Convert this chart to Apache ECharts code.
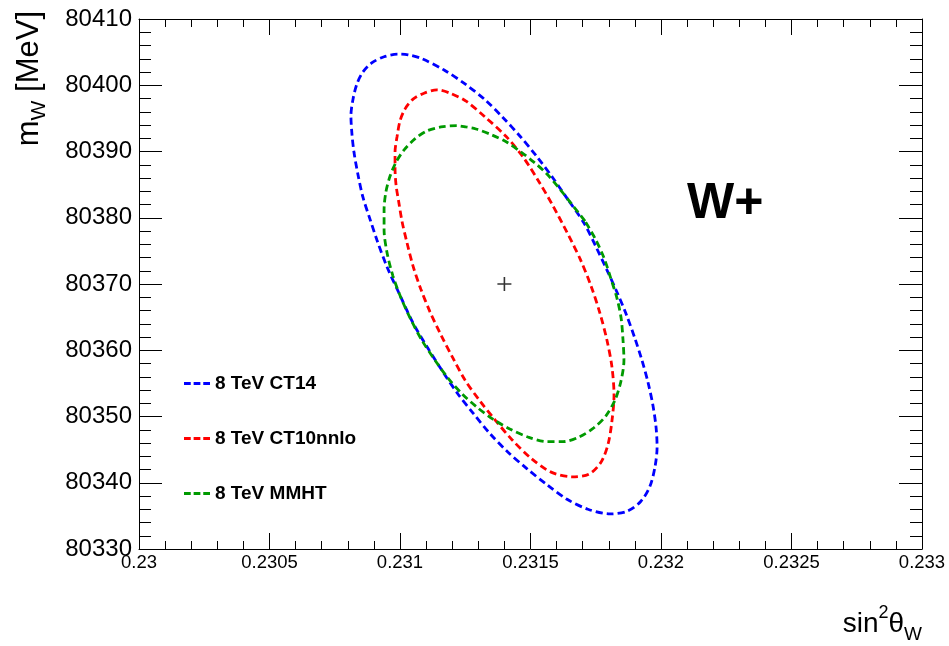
<!DOCTYPE html>
<html>
<head>
<meta charset="utf-8">
<script src="https://cdn.jsdelivr.net/npm/echarts@6/dist/echarts.min.js"></script>
<style>
  html, body { margin: 0; padding: 0; background: #fff; }
  #chart { width: 949px; height: 646px; }
</style>
</head>
<body>
<div id="chart"></div>
<script>
// Contour points [sin^2 theta_W, m_W in MeV] for each PDF set, counter-clockwise from the top
const ct14Points = [
  [0.230992, 80404.7], [0.230939, 80404.3], [0.230893, 80403.4], [0.230858, 80402.0],
  [0.230835, 80400.2], [0.230820, 80397.9], [0.230812, 80395.4], [0.230816, 80392.6],
  [0.230824, 80389.8], [0.230839, 80386.5], [0.230858, 80383.1], [0.230885, 80379.8],
  [0.230912, 80376.6], [0.230950, 80372.6], [0.231000, 80368.3], [0.231050, 80364.1],
  [0.231107, 80360.3], [0.231165, 80356.7], [0.231222, 80353.4], [0.231280, 80350.5],
  [0.231345, 80347.4], [0.231414, 80344.6], [0.231487, 80342.1], [0.231563, 80339.7],
  [0.231640, 80337.5], [0.231720, 80336.0], [0.231805, 80335.3], [0.231870, 80335.7],
  [0.231923, 80337.2], [0.231958, 80339.5], [0.231977, 80342.4], [0.231985, 80345.4],
  [0.231981, 80348.4], [0.231969, 80351.7], [0.231950, 80355.2], [0.231927, 80358.5],
  [0.231900, 80361.8], [0.231866, 80365.5], [0.231831, 80368.8], [0.231793, 80372.1],
  [0.231751, 80375.6], [0.231705, 80379.2], [0.231644, 80382.7], [0.231586, 80386.0],
  [0.231525, 80389.2], [0.231460, 80392.3], [0.231395, 80395.1], [0.231326, 80397.8],
  [0.231249, 80400.2], [0.231169, 80402.3], [0.231084, 80404.0], [0.231031, 80404.6]
];

const ct10nnloPoints = [
  [0.231142, 80399.3], [0.231092, 80398.8], [0.231050, 80397.9], [0.231019, 80396.4],
  [0.231000, 80394.6], [0.230989, 80392.3], [0.230981, 80389.9], [0.230981, 80387.5],
  [0.230985, 80384.9], [0.230996, 80382.2], [0.231008, 80379.4], [0.231027, 80376.2],
  [0.231050, 80372.7], [0.231080, 80369.2], [0.231115, 80365.8], [0.231157, 80362.3],
  [0.231203, 80358.8], [0.231249, 80355.5], [0.231307, 80352.3], [0.231364, 80349.5],
  [0.231429, 80346.5], [0.231502, 80343.7], [0.231579, 80341.6], [0.231659, 80340.9],
  [0.231724, 80341.3], [0.231770, 80343.1], [0.231797, 80345.8], [0.231812, 80349.3],
  [0.231820, 80353.2], [0.231812, 80357.5], [0.231793, 80361.5], [0.231766, 80365.6],
  [0.231732, 80369.7], [0.231690, 80373.8], [0.231640, 80377.8], [0.231586, 80381.8],
  [0.231533, 80385.4], [0.231471, 80389.2], [0.231406, 80392.3], [0.231326, 80395.2],
  [0.231253, 80397.6], [0.231192, 80398.8]
];

const mmhtPoints = [
  [0.231218, 80393.9], [0.231157, 80393.7], [0.231103, 80393.1], [0.231057, 80391.9],
  [0.231015, 80390.2], [0.230985, 80388.4], [0.230962, 80386.3], [0.230946, 80383.9],
  [0.230939, 80381.2], [0.230939, 80378.2], [0.230950, 80374.8], [0.230973, 80371.2],
  [0.231004, 80367.9], [0.231042, 80364.6], [0.231084, 80361.5], [0.231134, 80358.5],
  [0.231184, 80355.8], [0.231238, 80353.4], [0.231295, 80351.4], [0.231356, 80349.6],
  [0.231421, 80348.1], [0.231490, 80346.9], [0.231563, 80346.2], [0.231625, 80346.2],
  [0.231686, 80346.9], [0.231743, 80348.3], [0.231789, 80350.1], [0.231824, 80352.5],
  [0.231847, 80355.4], [0.231858, 80358.5], [0.231854, 80361.8], [0.231847, 80364.9],
  [0.231831, 80367.9], [0.231808, 80370.8], [0.231782, 80373.9], [0.231747, 80376.9],
  [0.231709, 80379.5], [0.231663, 80381.8], [0.231613, 80384.3], [0.231563, 80386.6],
  [0.231513, 80388.4], [0.231464, 80389.9], [0.231410, 80391.4], [0.231352, 80392.5],
  [0.231291, 80393.4], [0.231253, 80393.7]
];

// Central value
const centralPoint = [0.2314, 80370];

const seriesNames = ['8 TeV CT14', '8 TeV CT10nnlo', '8 TeV MMHT'];
const seriesColors = ['#0000ff', '#ff0000', '#009a00'];
const seriesPoints = [ct14Points, ct10nnloPoints, mmhtPoints];
// where each closed path starts/ends (on a straight stretch, so the seam does not show)
const seamIndex = [42, 34, 36];

const xRange = [0.23, 0.233];
const yRange = [80330, 80410];

const FONT = '"Liberation Sans", Arial, Helvetica, sans-serif';

const chart = echarts.init(document.getElementById('chart'), null, { renderer: 'canvas' });

function closedPath(pts, k) {
  return pts.slice(k).concat(pts.slice(0, k + 1));
}

// three short dashes for the legend sample
const dashIcon = 'path://M0,0h7v3h-7zM10,0h7v3h-7zM20,0h7v3h-7z';

const contourSeries = seriesPoints.map((pts, i) => ({
  name: seriesNames[i],
  type: 'line',
  data: closedPath(pts, seamIndex[i]),
  smooth: 0.3,
  symbol: 'none',
  showSymbol: false,
  silent: true,
  lineStyle: { color: seriesColors[i], width: 2.8, type: [7, 4] },
  itemStyle: { color: seriesColors[i] },
  z: 3
}));

function xLabel(v) { return String(parseFloat(v.toFixed(4))); }
function yLabel(v) { return String(Math.round(v)); }

const frameLine = { show: true, onZero: false, lineStyle: { color: '#000', width: 1 } };

chart.setOption({
  animation: false,
  backgroundColor: '#ffffff',
  grid: { left: 139, right: 27, top: 19, bottom: 97, containLabel: false },
  legend: {
    data: seriesNames.map(n => ({ name: n, icon: dashIcon })),
    orient: 'vertical',
    left: 184,
    top: 374,
    padding: 0,
    itemWidth: 26,
    itemHeight: 3,
    itemGap: 36,
    selectedMode: false,
    textStyle: { fontFamily: FONT, fontSize: 19, fontWeight: 'bold', color: '#000' }
  },
  xAxis: [
    {
      type: 'value', position: 'bottom', min: xRange[0], max: xRange[1], interval: 0.0005,
      axisLine: frameLine,
      axisTick: { show: true, inside: true, length: 16, lineStyle: { color: '#000' } },
      minorTick: { show: true, splitNumber: 5, length: 8, lineStyle: { color: '#000' } },
      axisLabel: { show: true, margin: 4, fontFamily: FONT, fontSize: 18.5, color: '#000', formatter: xLabel,
                   showMinLabel: true, showMaxLabel: true },
      splitLine: { show: false }
    },
    {
      type: 'value', position: 'top', min: xRange[0], max: xRange[1], interval: 0.0005,
      axisLine: frameLine,
      axisTick: { show: true, inside: true, length: 16, lineStyle: { color: '#000' } },
      minorTick: { show: true, splitNumber: 5, length: 8, lineStyle: { color: '#000' } },
      axisLabel: { show: false },
      splitLine: { show: false }
    }
  ],
  yAxis: [
    {
      type: 'value', position: 'left', min: yRange[0], max: yRange[1], interval: 10,
      axisLine: frameLine,
      axisTick: { show: true, inside: true, length: 23, lineStyle: { color: '#000' } },
      minorTick: { show: true, splitNumber: 5, length: 12, lineStyle: { color: '#000' } },
      axisLabel: { show: true, margin: 7, fontFamily: FONT, fontSize: 24, color: '#000', formatter: yLabel,
                   showMinLabel: true, showMaxLabel: true },
      splitLine: { show: false }
    },
    {
      type: 'value', position: 'right', min: yRange[0], max: yRange[1], interval: 10,
      axisLine: frameLine,
      axisTick: { show: true, inside: true, length: 23, lineStyle: { color: '#000' } },
      minorTick: { show: true, splitNumber: 5, length: 12, lineStyle: { color: '#000' } },
      axisLabel: { show: false },
      splitLine: { show: false }
    }
  ],
  series: contourSeries.concat([{
    name: 'central',
    type: 'scatter',
    data: [centralPoint],
    symbol: 'path://M0,7L14,7M7,0L7,14',
    symbolSize: 14,
    silent: true,
    itemStyle: { color: 'rgba(0,0,0,0)', borderColor: '#000', borderWidth: 1.6 },
    z: 4
  }]),
  graphic: [
    {
      type: 'text', x: 29, y: 11, rotation: Math.PI / 2,
      style: {
        text: '{m|m}{s|W}{m| [MeV]}',
        align: 'right', verticalAlign: 'middle',
        fill: '#000',
        rich: {
          m: { fontFamily: FONT, fontSize: 31, lineHeight: 42, verticalAlign: 'middle', fill: '#000' },
          s: { fontFamily: FONT, fontSize: 21, lineHeight: 21, verticalAlign: 'bottom', fill: '#000' }
        }
      }
    },
    {
      type: 'text', x: 922, y: 624,
      style: {
        text: '{m|sin}{p|2}{m|θ}{s|W}',
        align: 'right', verticalAlign: 'middle',
        fill: '#000',
        rich: {
          m: { fontFamily: FONT, fontSize: 28, lineHeight: 40, verticalAlign: 'middle', fill: '#000' },
          p: { fontFamily: FONT, fontSize: 18, lineHeight: 18, verticalAlign: 'top', fill: '#000' },
          s: { fontFamily: FONT, fontSize: 19, lineHeight: 19, verticalAlign: 'bottom', fill: '#000' }
        }
      }
    },
    {
      type: 'text', x: 687, y: 204,
      style: {
        text: 'W+', fontFamily: FONT, fontSize: 50, fontWeight: 'bold', fill: '#000',
        align: 'left', verticalAlign: 'middle'
      }
    }
  ]
});
</script>
</body>
</html>
